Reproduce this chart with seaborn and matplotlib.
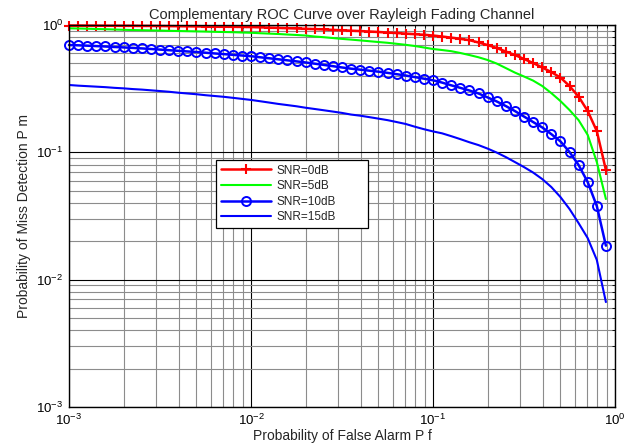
import matplotlib
matplotlib.use("Agg")
import matplotlib.pyplot as plt
import seaborn as sns
import pandas as pd
from matplotlib.ticker import LogLocator, NullFormatter

# ---- data ----
pf_exp = [-3.00, -2.95, -2.90, -2.85, -2.80, -2.75, -2.70, -2.65, -2.60, -2.55,
          -2.50, -2.45, -2.40, -2.35, -2.30, -2.25, -2.20, -2.15, -2.10, -2.05,
          -2.00, -1.95, -1.90, -1.85, -1.80, -1.75, -1.70, -1.65, -1.60, -1.55,
          -1.50, -1.45, -1.40, -1.35, -1.30, -1.25, -1.20, -1.15, -1.10, -1.05,
          -1.00, -0.95, -0.90, -0.85, -0.80, -0.75, -0.70, -0.65, -0.60, -0.55,
          -0.50, -0.45, -0.40, -0.35, -0.30, -0.25, -0.20, -0.15, -0.10, -0.05]

pm_snr0 = [0.991, 0.991, 0.989, 0.989, 0.987, 0.987, 0.986, 0.986, 0.984, 0.984,
           0.982, 0.980, 0.979, 0.977, 0.975, 0.973, 0.971, 0.970, 0.968, 0.966,
           0.964, 0.959, 0.954, 0.949, 0.944, 0.939, 0.933, 0.929, 0.922, 0.915,
           0.909, 0.902, 0.896, 0.889, 0.881, 0.873, 0.865, 0.856, 0.847, 0.838,
           0.827, 0.812, 0.796, 0.779, 0.760, 0.729, 0.696, 0.660, 0.619, 0.581,
           0.541, 0.503, 0.464, 0.427, 0.387, 0.332, 0.274, 0.211, 0.147, 0.0726]

pm_snr5 = [0.942, 0.939, 0.935, 0.930, 0.927, 0.922, 0.917, 0.913, 0.910, 0.907,
           0.904, 0.900, 0.897, 0.894, 0.891, 0.888, 0.884, 0.881, 0.878, 0.873,
           0.869, 0.862, 0.856, 0.850, 0.842, 0.835, 0.827, 0.812, 0.802, 0.790,
           0.778, 0.768, 0.757, 0.746, 0.735, 0.725, 0.712, 0.699, 0.684, 0.666,
           0.648, 0.636, 0.623, 0.603, 0.581, 0.558, 0.531, 0.498, 0.459, 0.423,
           0.394, 0.366, 0.332, 0.292, 0.253, 0.215, 0.179, 0.137, 0.0839, 0.0430]

pm_snr10 = [0.696, 0.693, 0.688, 0.683, 0.678, 0.672, 0.667, 0.661, 0.655, 0.648,
            0.641, 0.634, 0.627, 0.620, 0.614, 0.606, 0.598, 0.591, 0.583, 0.576,
            0.569, 0.558, 0.548, 0.538, 0.528, 0.518, 0.508, 0.497, 0.486, 0.475,
            0.464, 0.454, 0.446, 0.438, 0.430, 0.421, 0.411, 0.401, 0.390, 0.379,
            0.368, 0.353, 0.336, 0.321, 0.306, 0.290, 0.270, 0.251, 0.231, 0.211,
            0.191, 0.173, 0.157, 0.139, 0.122, 0.1006, 0.0795, 0.0584, 0.0379, 0.0185]

pm_snr15 = [0.338, 0.334, 0.331, 0.328, 0.325, 0.321, 0.318, 0.314, 0.311, 0.307,
            0.303, 0.299, 0.294, 0.290, 0.286, 0.281, 0.277, 0.273, 0.268, 0.263,
            0.258, 0.252, 0.246, 0.240, 0.235, 0.230, 0.224, 0.219, 0.214, 0.209,
            0.204, 0.198, 0.194, 0.189, 0.184, 0.179, 0.173, 0.167, 0.159, 0.152,
            0.146, 0.141, 0.134, 0.127, 0.120, 0.114, 0.107, 0.0996, 0.0918, 0.0839,
            0.0766, 0.0694, 0.0617, 0.0534, 0.0446, 0.0359, 0.0278, 0.0212, 0.0143, 0.00667]

labels = ["SNR=0dB", "SNR=5dB", "SNR=10dB", "SNR=15dB"]
title = "Complementary ROC Curve over Rayleigh Fading Channel"
xlabel = "Probability of False Alarm P f"
ylabel = "Probability of Miss Detection P m"

pf = [10 ** e for e in pf_exp]

sns.set_style("white")
plt.rcParams["font.family"] = ["Liberation Sans", "DejaVu Sans"]
plt.rcParams["mathtext.fontset"] = "custom"
plt.rcParams["mathtext.rm"] = "Liberation Sans"

fig = plt.figure(figsize=(6.25, 4.45), dpi=100)
ax = fig.add_axes([0.1104, 0.0854, 0.8736, 0.8584])
ax.set_xscale("log")
ax.set_yscale("log")

styles = [
    dict(color="#ff0000", lw=1.8, marker="+", markersize=7.5, markeredgewidth=1.5,
         markeredgecolor="#ff0000", clip_on=False),
    dict(color="#00ff00", lw=1.5),
    dict(color="#0000ff", lw=1.8, marker="o", markersize=6.5, markerfacecolor="none",
         markeredgecolor="#0000ff", markeredgewidth=1.4, clip_on=False),
    dict(color="#0000ff", lw=1.5),
]
series = [pm_snr0, pm_snr5, pm_snr10, pm_snr15]
for lab, ys, st in zip(labels, series, styles):
    df = pd.DataFrame({"pf": pf, "pm": ys})
    sns.lineplot(data=df, x="pf", y="pm", ax=ax, label=lab, sort=True,
                 estimator=None, **st)

ax.set_xlim(1e-3, 1)
ax.set_ylim(1e-3, 1)
ax.xaxis.set_major_locator(LogLocator(base=10, numticks=10))
ax.yaxis.set_major_locator(LogLocator(base=10, numticks=10))
ax.xaxis.set_minor_locator(LogLocator(base=10, subs=range(2, 10), numticks=20))
ax.yaxis.set_minor_locator(LogLocator(base=10, subs=range(2, 10), numticks=20))
ax.xaxis.set_minor_formatter(NullFormatter())
ax.yaxis.set_minor_formatter(NullFormatter())

ax.grid(True, which="major", color="#000000", lw=0.8, ls="-")
ax.grid(True, which="minor", color="#8c8c8c", lw=0.8, ls="-")
ax.set_axisbelow(True)
for sp in ax.spines.values():
    sp.set_color("black")
    sp.set_linewidth(1.0)

ax.tick_params(which="both", direction="in", top=True, right=True, colors="black",
               labelsize=9.5)
ax.tick_params(which="major", length=4)
ax.tick_params(which="minor", length=2)
ax.tick_params(axis="x", pad=4)
ax.tick_params(axis="y", pad=4)

ax.set_title(title, fontsize=10.5, pad=4)
ax.set_xlabel(xlabel, fontsize=10, labelpad=1)
ax.set_ylabel(ylabel, fontsize=10, labelpad=4)

leg = ax.legend(loc="upper left", bbox_to_anchor=(0.27, 0.647, 0.278, 0.0),
                mode="expand", fontsize=8.5,
                frameon=True, fancybox=False, framealpha=1, edgecolor="black",
                handlelength=4.2, handletextpad=0.5, labelspacing=0.3,
                borderpad=0.4, borderaxespad=0.0, numpoints=1)
leg.get_frame().set_linewidth(0.9)

fig.savefig("out.png", dpi=100)
